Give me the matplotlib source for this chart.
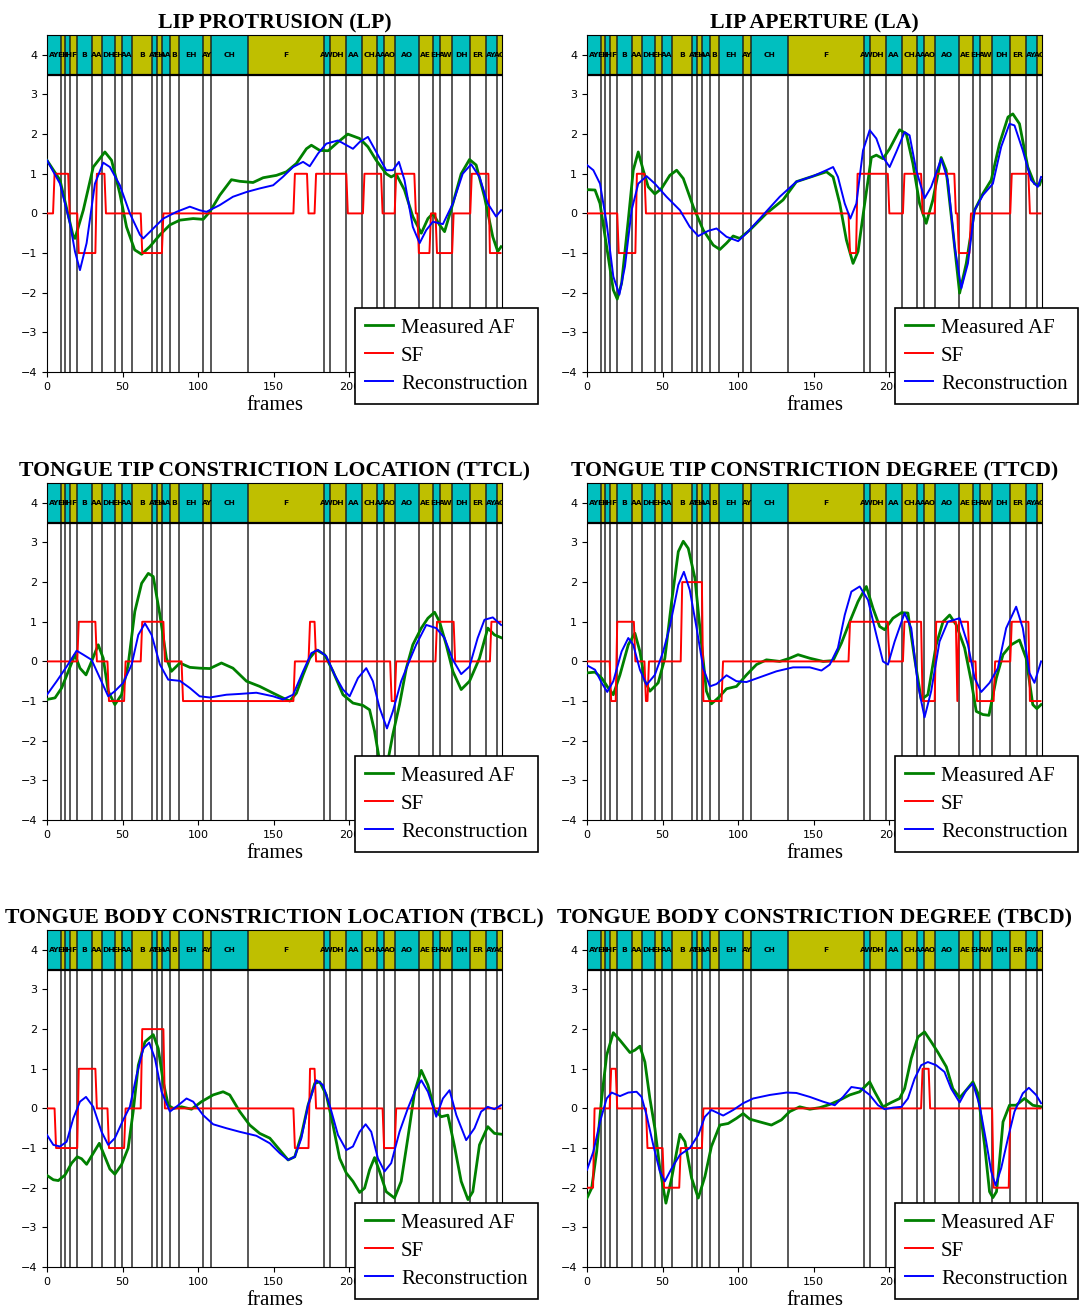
import matplotlib
matplotlib.use('Agg')
import matplotlib.pyplot as plt
import numpy as np

# phoneme segmentation (frames) and labels
bounds = [0, 9.2, 12.2, 15.2, 20, 29.5, 36.2, 44.9, 49.3, 56.2, 69.4, 72.6, 76, 81.1, 87.1,
          103.5, 108.3, 132.9, 183.4, 186.9, 197.5, 208.3, 218, 223, 230.2, 245.9, 255.1,
          259.9, 268.2, 280, 290.1, 297.9, 301]
phones = ['AY', 'EH', 'IH', 'F', 'B', 'AA', 'DH', 'EH', 'AA', 'B', 'AY', 'EH', 'AA', 'B', 'EH',
          'AY', 'CH', 'F', 'AW', 'DH', 'AA', 'CH', 'AA', 'AO', 'AO', 'AE', 'EH', 'AW', 'DH',
          'ER', 'AY', 'AO']

n_frames = 301

titles = ['LIP PROTRUSION (LP)', 'LIP APERTURE (LA)',
          'TONGUE TIP CONSTRICTION LOCATION (TTCL)', 'TONGUE TIP CONSTRICTION DEGREE (TTCD)',
          'TONGUE BODY CONSTRICTION LOCATION (TBCL)', 'TONGUE BODY CONSTRICTION DEGREE (TBCD)']

# ---- LP ----
lp_af_x = [0, 8.6, 17.4, 18.5, 24, 30.6, 38.3, 42.7, 48.2, 52.6, 58, 62.6, 68, 74.7, 81.3, 87.9,
           96.7, 103.3, 107.7, 114.3, 122, 127.5, 136.3, 143, 151.8, 158.4, 165, 171.6, 174.9,
           180.4, 186, 192.5, 199, 206.8, 212.3, 217.8, 224.4, 227.7, 231, 236.5, 242, 247.6,
           252, 255.3, 259.7, 263, 268.5, 274, 279.5, 283.9, 289.4, 294.9, 298.2, 300.4]
lp_af_y = [1.34, 0.84, -0.59, -0.63, 0.08, 1.17, 1.55, 1.34, 0.5, -0.34, -0.92, -1.03, -0.84,
           -0.54, -0.29, -0.17, -0.13, -0.15, 0.04, 0.46, 0.85, 0.81, 0.78, 0.9, 0.96, 1.05, 1.26,
           1.63, 1.72, 1.59, 1.58, 1.8, 2.0, 1.89, 1.68, 1.34, 1.0, 0.92, 0.99, 0.59, -0.08, -0.5,
           -0.13, 0, -0.29, -0.46, 0.25, 1.0, 1.36, 1.22, 0.42, -0.59, -0.96, -0.84]
lp_rec_x = [0, 8.6, 15.2, 18.5, 21.8, 26.2, 31.7, 37.2, 41.6, 48.2, 54.8, 61.5, 63.7, 70.3, 76.9,
            85.7, 94.5, 101, 105.5, 114.3, 123, 132, 140.7, 149.6, 156, 162.8, 169.4, 173.8,
            179.3, 184.8, 192.5, 202.4, 206.8, 212.3, 217.8, 224.4, 228.8, 232.8, 236.5, 242,
            246.5, 250.9, 255.3, 261.9, 268.5, 275, 280.6, 286.1, 291.6, 297.1, 300.4]
lp_rec_y = [1.34, 0.75, -0.25, -0.96, -1.43, -0.75, 0.75, 1.28, 1.17, 0.71, 0, -0.54, -0.63,
            -0.38, -0.13, 0.04, 0.17, 0.08, 0.04, 0.21, 0.42, 0.54, 0.63, 0.71, 0.92, 1.17, 1.3,
            1.19, 1.51, 1.76, 1.84, 1.63, 1.8, 1.93, 1.55, 1.09, 1.09, 1.3, 0.84, -0.34, -0.75,
            -0.42, -0.21, -0.27, 0.25, 1.0, 1.24, 0.92, 0.25, -0.08, 0.08]
lp_sf_start = [0, 5, 15, 21, 33, 39, 63, 77, 164, 173, 178, 199, 210, 222, 231, 244, 246, 254,
               258, 269, 281, 293]
lp_sf_level = [0, 1, 0, -1, 1, 0, -1, 0, 1, 0, 1, 0, 1, 0, 1, 0, -1, 0, -1, 0, 1, -1]

# ---- LA ----
la_af_x = [0, 5.3, 8.6, 13, 17.4, 20, 22.9, 27.3, 30.6, 33.9, 37.2, 40.5, 44.9, 49.3, 54.8, 59.3,
           63.7, 70.3, 76.9, 83.5, 87.9, 92.3, 96.7, 101, 107.7, 118.7, 129.7, 138.5, 149.6,
           158.4, 162.8, 167.2, 171.6, 176, 179.3, 183.7, 188.1, 191.4, 195.8, 200.2, 206.8,
           211.2, 215.6, 220, 224.4, 228.8, 234.3, 237.6, 242, 246.5, 250.9, 256.4, 261.9,
           267.4, 272.9, 278.5, 281.7, 286.1, 291.6, 296, 299.3, 300.4]
la_af_y = [0.6, 0.59, 0.25, -0.84, -1.93, -2.16, -1.76, -0.17, 1.09, 1.55, 1.09, 0.67, 0.49,
           0.63, 0.96, 1.09, 0.88, 0.17, -0.42, -0.8, -0.91, -0.75, -0.57, -0.63, -0.42, 0, 0.34,
           0.8, 0.94, 1.05, 0.92, 0.25, -0.67, -1.26, -0.96, 0.25, 1.41, 1.47, 1.38, 1.63, 2.11,
           2.01, 1.26, 0.25, -0.25, 0.34, 1.41, 1.09, -0.42, -2.01, -1.26, 0.08, 0.5, 0.84, 1.76,
           2.43, 2.51, 2.26, 1.17, 0.75, 0.71, 0.84]
la_rec_x = [0, 4.2, 8.6, 13, 17.4, 21.4, 25.1, 29.5, 33.9, 39.4, 44.9, 52.6, 61.5, 68, 73.6,
            80.2, 85.7, 92.3, 100, 105.5, 116.5, 127.5, 138.5, 149.6, 158.4, 162.8, 166, 170.5,
            174.2, 178.2, 182.6, 187, 191.4, 195.8, 200.2, 204.6, 210.1, 213.4, 217.8, 223.3,
            227.7, 234.3, 238.7, 243.2, 247.6, 252, 256.4, 261.9, 268.5, 274, 279.5, 282.8,
            288.3, 293.8, 298.2, 300.4]
la_rec_y = [1.22, 1.09, 0.75, -0.25, -1.59, -2.05, -1.34, 0.08, 0.75, 0.94, 0.75, 0.42, 0.08,
            -0.34, -0.57, -0.44, -0.38, -0.59, -0.7, -0.5, -0.04, 0.42, 0.8, 0.94, 1.09, 1.17,
            0.92, 0.25, -0.13, 0.25, 1.59, 2.1, 1.89, 1.42, 1.17, 1.55, 2.05, 1.97, 1.09, 0.38,
            0.67, 1.38, 0.84, -0.84, -1.89, -1.26, 0.08, 0.46, 0.75, 1.68, 2.26, 2.22, 1.59,
            0.84, 0.67, 0.92]
la_sf_start = [0, 21, 33, 39, 174, 179, 200, 210, 222, 231, 244, 246, 254, 281, 293]
la_sf_level = [0, -1, 1, 0, -1, 1, 0, 1, 0, 1, 0, -1, 0, 1, 0]

# ---- TTCL ----
ttcl_af_x = [0, 5.3, 9.7, 14.1, 18.5, 21.8, 25.8, 29.5, 33.9, 37.2, 40.5, 44.9, 49.3, 53.7,
             58.1, 62.6, 67, 70.3, 74.7, 79, 82.3, 87.9, 94.5, 101, 107.7, 115.4, 123, 132,
             140.7, 149.6, 156, 160.6, 165, 169.4, 173.8, 178.2, 183.7, 189.2, 195.8, 202.4,
             209, 213.4, 216.7, 220, 222.5, 225.5, 228.8, 233.2, 237.7, 242, 247.6, 252, 256.4,
             259.7, 264.1, 268.5, 274, 279.5, 286.1, 291.6, 296, 300.4]
ttcl_af_y = [-0.96, -0.92, -0.67, -0.25, 0.17, -0.17, -0.34, 0, 0.42, 0.08, -0.75, -1.09, -0.84,
             -0.08, 1.26, 1.97, 2.22, 2.14, 1.17, 0.08, -0.25, -0.04, -0.15, -0.17, -0.18, -0.04,
             -0.17, -0.5, -0.63, -0.8, -0.92, -1.0, -0.8, -0.34, 0.08, 0.29, 0.17, -0.25, -0.84,
             -1.05, -1.11, -1.22, -1.76, -2.51, -2.7, -2.51, -1.84, -1.09, -0.17, 0.42, 0.84,
             1.09, 1.24, 1.0, 0.42, -0.25, -0.71, -0.5, 0.08, 0.84, 0.67, 0.6]
ttcl_rec_x = [0, 6.4, 13, 19.6, 24, 29.5, 35, 40.5, 44.9, 50.4, 56, 60.4, 64.8, 69.2, 74.7, 80.2,
              87.9, 94.5, 101, 107.7, 118.7, 127.5, 138.5, 149.6, 156, 162.8, 169.4, 174.9,
              179.3, 184.8, 190.3, 195.8, 200.2, 205.7, 211.2, 215.6, 220, 224.9, 228.8, 234.3,
              238.7, 244.2, 250.9, 257.5, 263, 268.5, 274, 279.5, 284.9, 289.4, 294.9, 300.4]
ttcl_rec_y = [-0.84, -0.5, -0.13, 0.27, 0.17, 0.04, -0.42, -0.88, -0.75, -0.54, -0.08, 0.67,
              0.96, 0.67, -0.08, -0.46, -0.49, -0.67, -0.88, -0.91, -0.84, -0.82, -0.79, -0.88,
              -0.96, -0.84, -0.25, 0.21, 0.29, 0.13, -0.34, -0.71, -0.88, -0.42, -0.17, -0.5,
              -1.17, -1.69, -1.26, -0.5, -0.08, 0.42, 0.92, 0.84, 0.59, 0.04, -0.32, -0.13, 0.59,
              1.05, 1.11, 0.92]
ttcl_sf_start = [0, 21, 33, 41, 52, 63, 78, 90, 164, 174, 178, 228, 231, 258, 270, 294]
ttcl_sf_level = [0, 1, 0, -1, 0, 1, 0, -1, 0, 1, 0, -1, 0, 1, 0, 1]

# ---- TTCD ----
ttcd_af_x = [0, 5.3, 9.7, 14.1, 17.4, 21.8, 27.3, 31.7, 35, 38.3, 41.6, 47.1, 51.5, 56, 60.4,
             63.7, 67, 71.4, 75.8, 79, 82.3, 86.8, 92.3, 98.9, 105.5, 112.1, 118.7, 127.5, 134.1,
             139.6, 147.4, 156.2, 162.8, 168.3, 173.8, 179.3, 184.8, 189.2, 193.6, 196.9, 202.4,
             208, 212.3, 216.7, 221.1, 225.5, 231, 235.5, 239.9, 244.3, 249.8, 254.2, 257.5,
             261.9, 265.9, 270.8, 275.2, 280.6, 286.1, 290.5, 294.9, 297.6, 300.4]
ttcd_af_y = [-0.29, -0.27, -0.42, -0.67, -0.84, -0.34, 0.42, 0.71, 0.25, -0.5, -0.75, -0.54,
             0.08, 1.51, 2.77, 3.03, 2.85, 2.1, 0.42, -0.75, -1.07, -0.92, -0.69, -0.63, -0.34,
             -0.08, 0.04, 0, 0.08, 0.17, 0.08, 0, 0.02, 0.46, 1.0, 1.51, 1.89, 1.34, 0.88, 0.8,
             1.09, 1.23, 1.22, 0.08, -0.96, -0.84, 0.42, 1.0, 1.17, 0.92, 0.34, -0.5, -1.26,
             -1.34, -1.36, -0.42, 0.17, 0.42, 0.54, 0.08, -1.09, -1.19, -1.09]
ttcd_rec_x = [0, 5.3, 9.7, 13.4, 17.4, 22.9, 27.3, 30.6, 35, 39.4, 44.9, 50.4, 54.8, 60.4, 64.1,
              68, 72.5, 76.9, 81.3, 85.7, 92.3, 98.9, 105.5, 114.3, 125.3, 136.3, 147.4, 155.1,
              160.6, 166, 170.5, 174.9, 180.4, 185.9, 191.4, 195.8, 199.1, 203.5, 210.1, 214.5,
              218.9, 223.3, 227.7, 233.2, 238.7, 246.5, 252, 256.4, 260.8, 266.3, 271.8, 277.3,
              283.9, 288.3, 292.7, 296, 300.4]
ttcd_rec_y = [-0.1, -0.21, -0.54, -0.77, -0.5, 0.25, 0.59, 0.42, -0.21, -0.59, -0.34, 0.25,
              0.88, 1.93, 2.26, 1.8, 0.84, -0.17, -0.63, -0.57, -0.35, -0.5, -0.52, -0.4, -0.25,
              -0.15, -0.15, -0.23, -0.08, 0.34, 1.17, 1.76, 1.89, 1.55, 0.67, 0, -0.08, 0.5,
              1.22, 0.84, -0.59, -1.41, -0.75, 0.5, 1.0, 1.09, 0.42, -0.42, -0.77, -0.54, -0.17,
              0.84, 1.38, 0.84, -0.29, -0.54, 0]
ttcd_sf_start = [0, 16, 20, 32, 39, 41, 63, 77, 90, 174, 200, 210, 222, 231, 245, 246, 253, 258,
                 270, 281, 293]
ttcd_sf_level = [0, -1, 1, 0, -1, 0, 2, -1, 0, 1, 0, 1, -1, 1, -1, 1, 0, -1, 0, 1, -1]

# ---- TBCL ----
tbcl_af_x = [0, 4.2, 7.5, 11.9, 16.3, 20, 22.9, 26.2, 30.6, 34.6, 38.3, 41.6, 44.9, 49.3, 53.7,
             57, 60.4, 64.8, 70.3, 73.6, 76.9, 80.2, 83.5, 89, 95.6, 102.2, 109.9, 116.5, 120.9,
             127.5, 134.1, 140.7, 147.4, 154, 159.5, 163.9, 168.3, 172.7, 177.1, 180.4, 184.8,
             189.2, 193.6, 198, 202.4, 206.8, 210.1, 213.4, 216.7, 220, 224.4, 229.9, 234.3,
             238.7, 243.2, 247.6, 252, 256.4, 260.8, 265.2, 269.6, 274, 278.5, 281.7, 286.1,
             291.6, 296, 300.4]
tbcl_af_y = [-1.69, -1.8, -1.82, -1.68, -1.38, -1.22, -1.27, -1.41, -1.13, -0.88, -1.22, -1.53,
             -1.66, -1.42, -1.0, -0.08, 1.09, 1.68, 1.86, 1.51, 0.67, 0.08, 0, 0.04, -0.02, 0.17,
             0.34, 0.42, 0.34, -0.08, -0.42, -0.63, -0.75, -1.05, -1.3, -1.22, -0.67, 0.08, 0.63,
             0.67, 0.34, -0.42, -1.26, -1.63, -1.84, -2.12, -2.01, -1.55, -1.24, -1.59, -2.1,
             -2.26, -1.84, -0.75, 0.42, 0.96, 0.59, -0.04, -0.21, -0.17, -0.96, -1.84, -2.3,
             -2.1, -0.92, -0.46, -0.63, -0.65]
tbcl_rec_x = [0, 4.2, 8.6, 13, 17.4, 21.8, 25.8, 30.6, 36.1, 40.5, 44.9, 50.4, 54.8, 59.3, 63.7,
              67.6, 71.4, 75.8, 81.3, 86.8, 92.3, 96.7, 103.3, 109.9, 118.7, 127.5, 138.5, 147.4,
              154, 159.5, 163.9, 168.3, 172.7, 178.2, 182.6, 187, 192.5, 198, 202.4, 206.8,
              210.8, 214.5, 218.9, 223.3, 227.7, 233.2, 238.7, 243.2, 247.6, 252, 257.5, 261.9,
              266.3, 270.8, 277.3, 282.8, 287.2, 291.6, 296, 300.4]
tbcl_rec_y = [-0.67, -0.92, -0.96, -0.84, -0.25, 0.17, 0.29, 0.04, -0.59, -0.92, -0.75, -0.29,
              0.04, 0.84, 1.51, 1.66, 1.26, 0.42, -0.08, 0.08, 0.25, 0.17, -0.17, -0.4, -0.5,
              -0.59, -0.69, -0.88, -1.13, -1.3, -1.22, -0.75, 0.08, 0.71, 0.59, 0.08, -0.67,
              -1.05, -0.96, -0.59, -0.4, -0.59, -1.26, -1.59, -1.38, -0.59, 0, 0.42, 0.71, 0.42,
              -0.21, 0.25, 0.46, -0.17, -0.8, -0.5, -0.08, 0.04, -0.02, 0.08]
tbcl_sf_start = [0, 6, 21, 33, 41, 52, 63, 78, 164, 174, 178, 223, 231]
tbcl_sf_level = [0, -1, 1, 0, -1, 0, 2, 0, -1, 1, 0, -1, 0]

# ---- TBCD ----
tbcd_af_x = [0, 3.1, 6.4, 9.7, 13, 17.4, 21.8, 28.4, 31.7, 35, 38.3, 41.6, 44.9, 48.2, 52.2, 56,
             61.5, 64.8, 69.2, 73.6, 78, 82.3, 87.9, 93.4, 98.9, 103.3, 107.7, 114.3, 122, 128.6,
             134.1, 140.7, 147.4, 154, 160.6, 167.2, 173.8, 180.4, 187, 190.3, 195.8, 201.3,
             206.8, 210.1, 214.5, 218.9, 223.3, 227.7, 232.2, 237.7, 242, 246.5, 250.9, 255.3,
             258.6, 263, 266.3, 268.5, 270.9, 272.5, 275.2, 279.5, 283.9, 289.4, 294.9, 300.4]
tbcd_af_y = [-2.26, -2.01, -1.09, 0.25, 1.34, 1.91, 1.72, 1.41, 1.47, 1.57, 1.17, 0.25, -0.5,
             -1.51, -2.39, -1.76, -0.65, -0.84, -1.76, -2.26, -1.72, -0.96, -0.42, -0.38, -0.25,
             -0.13, -0.27, -0.34, -0.42, -0.29, -0.08, 0.04, -0.02, 0.02, 0.1, 0.21, 0.34, 0.42,
             0.67, 0.42, 0.04, 0.15, 0.25, 0.5, 1.26, 1.8, 1.93, 1.68, 1.41, 1.05, 0.5, 0.27,
             0.46, 0.67, 0.38, -0.92, -2.1, -2.25, -2.1, -1.5, -0.34, 0.08, 0.08, 0.25, 0.08,
             0.04]
tbcd_rec_x = [0, 4.2, 8.6, 13, 16.3, 21.8, 27.3, 32.8, 36.1, 39.4, 43.8, 48.2, 51.5, 56, 61.5,
              68, 73.6, 78, 82.3, 90.1, 96.7, 103.3, 109.9, 121, 132, 138.5, 147.4, 156.2,
              163.9, 169.4, 174.9, 181.5, 187, 192.5, 196.9, 202.4, 208, 212.3, 216.7, 221.1,
              225.5, 231, 236.5, 240.9, 246.5, 250.9, 255.3, 259.7, 264.1, 267.4, 270.3, 274,
              278.5, 282.8, 288.3, 292.3, 297.1, 300.4]
tbcd_rec_y = [-1.55, -1.09, -0.34, 0.25, 0.4, 0.31, 0.4, 0.42, 0.29, -0.17, -0.92, -1.59, -1.84,
              -1.51, -1.17, -1.0, -0.67, -0.21, -0.04, -0.18, -0.04, 0.13, 0.25, 0.34, 0.4, 0.39,
              0.29, 0.17, 0.08, 0.29, 0.54, 0.5, 0.34, 0.08, -0.02, 0.02, 0.04, 0.25, 0.75, 1.09,
              1.17, 1.09, 0.92, 0.5, 0.15, 0.46, 0.63, 0.08, -0.84, -1.59, -1.94, -1.51, -0.75,
              -0.08, 0.38, 0.52, 0.34, 0.13]
tbcd_sf_start = [0, 5, 16, 20, 40, 51, 62, 77, 222, 227, 269, 280]
tbcd_sf_level = [-2, 0, 1, 0, -1, -2, -1, 0, 1, 0, -2, 0]

panels = [
    (lp_af_x, lp_af_y, lp_sf_start, lp_sf_level, lp_rec_x, lp_rec_y),
    (la_af_x, la_af_y, la_sf_start, la_sf_level, la_rec_x, la_rec_y),
    (ttcl_af_x, ttcl_af_y, ttcl_sf_start, ttcl_sf_level, ttcl_rec_x, ttcl_rec_y),
    (ttcd_af_x, ttcd_af_y, ttcd_sf_start, ttcd_sf_level, ttcd_rec_x, ttcd_rec_y),
    (tbcl_af_x, tbcl_af_y, tbcl_sf_start, tbcl_sf_level, tbcl_rec_x, tbcl_rec_y),
    (tbcd_af_x, tbcd_af_y, tbcd_sf_start, tbcd_sf_level, tbcd_rec_x, tbcd_rec_y),
]

SERIF = 'Liberation Serif'


def sf_frames(starts, levels, n=n_frames):
    """expands run starts / levels into one value per frame"""
    y = np.zeros(n)
    for s, e, v in zip(starts, list(starts[1:]) + [n], levels):
        y[s:e] = v
    return y


def draw_phones(ax):
    left = np.array(bounds[:-1])
    width = np.diff(bounds)
    colors = ['c' if i % 2 == 0 else 'y' for i in range(len(phones))]
    ax.bar(left, 1.05, width=width, bottom=3.47, align='edge', color=colors, zorder=1)
    ax.axhline(3.5, color='k', lw=1.6, zorder=3)
    for b in bounds[1:-1]:
        ax.axvline(b, color='0.1', lw=1.2, alpha=0.85, zorder=2)
    for l, w, p in zip(left, width, phones):
        ax.text(l + w / 2, 4.0, p, ha='center', va='center', fontsize=5.4,
                fontweight='bold', zorder=4, clip_on=True)


fig = plt.figure(figsize=(10.86, 13.09), dpi=100)
W, H = 1086, 1309
col_left = [47, 587]
row_top = [35, 483, 930]
ax_w, ax_h = 455, 337

frames = np.arange(n_frames)

for i, (ax_, ay_, ss, sl, rx, ry) in enumerate(panels):
    r, c = divmod(i, 2)
    ax = fig.add_axes([col_left[c] / W, 1 - (row_top[r] + ax_h) / H, ax_w / W, ax_h / H])
    draw_phones(ax)
    ax.plot(ax_, ay_, color='g', lw=2.0, label='Measured AF', zorder=5)
    ax.plot(frames, sf_frames(ss, sl), color='r', lw=1.4, label='SF', zorder=6)
    ax.plot(rx, ry, color='b', lw=1.4, label='Reconstruction', zorder=7)
    ax.set_xlim(0, 301)
    ax.set_ylim(-4, 4.5)
    ax.set_yticks(range(-4, 5))
    ax.set_xticks(range(0, 301, 50))
    ax.tick_params(labelsize=8)
    ax.set_title(titles[i], fontsize=15.7, fontweight='bold', family=SERIF, pad=5)
    ax.set_xlabel('frames', fontsize=15, family=SERIF, labelpad=3)
    leg = ax.legend(loc='lower right', bbox_to_anchor=(1.079, -0.095), fancybox=False,
                    framealpha=1, edgecolor='k', prop={'family': SERIF, 'size': 15},
                    handlelength=1.3, handletextpad=0.4, labelspacing=0.4, borderpad=0.5,
                    borderaxespad=0)
    leg.get_frame().set_linewidth(1.2)
    leg.set_zorder(20)

fig.savefig('out.png', dpi=100)
